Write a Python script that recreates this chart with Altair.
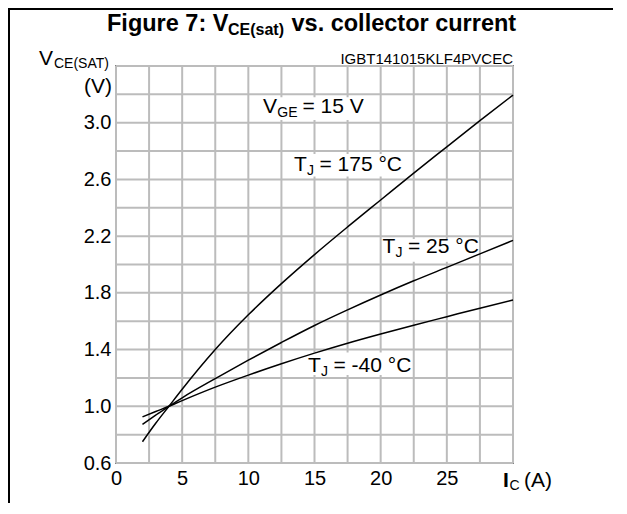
import altair as alt
import pandas as pd

# ---- data ----
current = [2, 3, 4, 5, 7.5, 10, 12.5, 15, 17.5, 20, 22.5, 25, 27.5, 30]
v_175 = [0.75, 0.88, 1.0, 1.12, 1.40, 1.645, 1.865, 2.07, 2.265, 2.455, 2.645, 2.83, 3.015, 3.195]
v_25 = [0.873, 0.937, 1.0, 1.06, 1.195, 1.325, 1.45, 1.57, 1.68, 1.785, 1.885, 1.98, 2.075, 2.17]
v_m40 = [0.925, 0.963, 1.0, 1.04, 1.135, 1.22, 1.30, 1.375, 1.445, 1.51, 1.572, 1.632, 1.692, 1.75]

x_grid = [0, 2.5, 5, 7.5, 10, 12.5, 15, 17.5, 20, 22.5, 25, 27.5, 30]
y_grid = [0.6, 0.8, 1.0, 1.2, 1.4, 1.6, 1.8, 2.0, 2.2, 2.4, 2.6, 2.8, 3.0, 3.2, 3.4]

# white areas behind the in-plot labels, in data units
box_x1 = [10.4, 13.0, 20.3, 14.0]
box_x2 = [19.6, 22.0, 27.4, 22.3]
box_y1 = [3.02, 2.62, 2.02, 1.22]
box_y2 = [3.18, 2.78, 2.18, 1.38]

FONT = "Liberation Sans"
GRID = "#bcbcbc"

rows = []
for name, vals in [("175", v_175), ("25", v_25), ("-40", v_m40)]:
    for i, v in zip(current, vals):
        rows.append({"series": name, "I": i, "V": v})
df = pd.DataFrame(rows)
boxes = pd.DataFrame({"x1": box_x1, "x2": box_x2, "y1": box_y1, "y2": box_y2})
one = pd.DataFrame({"a": [0]})

xs = alt.Scale(domain=[0, 30], nice=False, zero=False)
ys = alt.Scale(domain=[0.6, 3.4], nice=False, zero=False)

x_axis = alt.Axis(values=x_grid, grid=False, ticks=False, domain=False, title=None,
                  labelExpr="datum.value % 5 == 0 && datum.value < 30 ? datum.label : ''",
                  labelFont=FONT, labelFontSize=20, labelColor="black", labelPadding=5,
                  labelFlush=False, labelOverlap=False)
y_axis = alt.Axis(values=y_grid, grid=False, ticks=False, domain=False, title=None, format=".1f",
                  labelExpr="(round(datum.value*10) - 6) % 4 == 0 && datum.value < 3.3 ? datum.label : ''",
                  labelFont=FONT, labelFontSize=20, labelColor="black", labelPadding=5,
                  labelFlush=False, labelOverlap=False)

vgrid = alt.Chart(pd.DataFrame({"gx": x_grid})).mark_rule(color=GRID, strokeWidth=2).encode(
    x=alt.X("gx:Q", scale=xs, axis=x_axis))
hgrid = alt.Chart(pd.DataFrame({"gy": y_grid})).mark_rule(color=GRID, strokeWidth=2).encode(
    y=alt.Y("gy:Q", scale=ys, axis=y_axis))

rects = alt.Chart(boxes).mark_rect(color="white").encode(
    x=alt.X("x1:Q", scale=xs), x2="x2:Q",
    y=alt.Y("y1:Q", scale=ys), y2="y2:Q")

lines = alt.Chart(df).mark_line(color="black", strokeWidth=1.5, interpolate="monotone").encode(
    x=alt.X("I:Q", scale=xs), y=alt.Y("V:Q", scale=ys), detail="series:N")


def dtext(i, v, text, size, dx=0, dy=0, bold=False):
    return alt.Chart(one).mark_text(text=text, font=FONT, fontSize=size, align="left",
                                    baseline="alphabetic", dx=dx, dy=dy, color="black",
                                    fontWeight="bold" if bold else "normal").encode(
        x=alt.datum(i), y=alt.datum(v))


def ptext(x, y, text, size, align="left", bold=False):
    return alt.Chart(one).mark_text(text=text, font=FONT, fontSize=size, align=align,
                                    baseline="alphabetic", color="black",
                                    fontWeight="bold" if bold else "normal").encode(
        x=alt.value(x), y=alt.value(y))


layers = [vgrid, hgrid, rects, lines]
# in-plot labels
layers += [dtext(11.11, 3.068, "V", 21), dtext(11.11, 3.068, "GE", 14, dx=14.3, dy=4),
           dtext(11.11, 3.068, "= 15 V", 21, dx=39.5)]
for (ii, vv, rest) in [(13.45, 2.661, "= 175 °C"), (20.14, 2.078, "= 25 °C"), (14.51, 1.244, "= -40 °C")]:
    layers += [dtext(ii, vv, "T", 21), dtext(ii, vv, "J", 14, dx=13.0, dy=4),
               dtext(ii, vv, rest, 21, dx=25.5)]

# titles and frame (layout, pixel positions relative to plot area)
layers += [
    ptext(397, -2, "IGBT141015KLF4PVCEC", 15, align="right"),
    ptext(-77, -1, "V", 21), ptext(-62, 2, "CE(SAT)", 14),
    ptext(-4, 27, "(V)", 21, align="right"),
    ptext(387, 421, "I", 21, bold=True), ptext(393.5, 424, "C", 14),
    ptext(408, 421, "(A)", 21),
    ptext(-9, -35.5, "Figure 7: V", 23.5, bold=True),
    ptext(112, -31.5, "CE(sat)", 16, bold=True),
    ptext(175.5, -35.5, "vs. collector current", 23.5, bold=True),
]
top_line = alt.Chart(one).mark_rule(color="black", strokeWidth=2).encode(
    x=alt.value(-108), x2=alt.value(497), y=alt.value(-57))
left_line = alt.Chart(one).mark_rule(color="black", strokeWidth=2).encode(
    x=alt.value(-107), y=alt.value(-58), y2=alt.value(437))
layers += [top_line, left_line]

chart = alt.layer(*layers).properties(
    width=397, height=397,
    padding={"left": 108, "top": 58, "right": 100, "bottom": 40},
    autosize=alt.AutoSizeParams(type="none"),
    background="white",
).configure_view(stroke="#222222", strokeWidth=1.5)

chart.save("out.html", embed_options={"renderer": "svg", "actions": False})
